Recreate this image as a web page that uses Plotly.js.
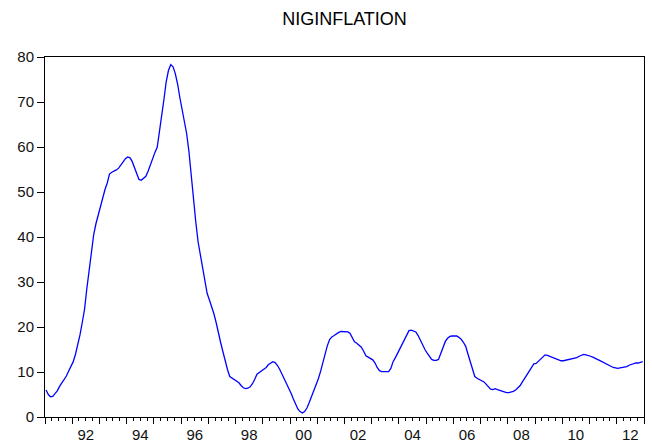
<!DOCTYPE html>
<html>
<head>
<meta charset="utf-8">
<script src="https://cdn.plot.ly/plotly-3.0.1.min.js"></script>
<style>html,body{margin:0;padding:0;background:#fff;}#chart{width:652px;height:443px;}</style>
</head>
<body>
<div id="chart"></div>
<script>
// Monthly values, Jan..Dec of each year
var v1991 = [6.0, 5.0, 4.5, 4.6, 5.2, 5.8, 6.8, 7.6, 8.3, 9.1, 10.2, 11.2];
var v1992 = [12.3, 14.0, 16.0, 18.3, 21.0, 24.0, 28.5, 33.0, 37.0, 40.5, 43.0, 45.0];
var v1993 = [46.5, 48.5, 50.5, 52.0, 54.0, 54.4, 54.6, 54.9, 55.3, 56.0, 56.8, 57.4];
var v1994 = [57.8, 57.6, 56.8, 55.5, 53.8, 52.8, 52.6, 53.0, 53.5, 54.6, 56.0, 57.8];
var v1995 = [58.8, 60.0, 63.0, 66.5, 70.5, 74.5, 77.0, 78.3, 77.8, 76.3, 74.0, 71.0];
var v1996 = [68.5, 66.0, 63.0, 59.0, 53.5, 48.0, 43.5, 39.0, 36.0, 33.0, 30.0, 27.5];
var v1997 = [26.0, 24.5, 23.0, 21.0, 18.5, 16.5, 14.5, 12.3, 10.5, 9.0, 8.6, 8.2];
var v1998 = [8.0, 7.6, 7.0, 6.5, 6.3, 6.4, 6.7, 7.4, 8.4, 9.5, 9.9, 10.2];
var v1999 = [10.5, 11.0, 11.6, 12.0, 12.3, 12.1, 11.5, 10.6, 9.6, 8.6, 7.5, 6.5];
var v2000 = [5.3, 4.0, 2.8, 1.8, 1.2, 0.9, 1.2, 2.0, 3.2, 4.4, 5.7, 7.0];
var v2001 = [8.5, 10.2, 12.0, 14.0, 15.8, 17.2, 17.8, 18.1, 18.5, 18.8, 19.0, 19.0];
var v2002 = [19.0, 18.9, 18.6, 17.5, 16.7, 16.4, 16.0, 15.5, 14.6, 13.6, 13.3, 13.0];
var v2003 = [12.7, 12.0, 11.0, 10.3, 10.1, 10.1, 10.1, 10.1, 10.8, 12.3, 13.2, 14.2];
var v2004 = [15.0, 16.0, 17.2, 18.3, 19.2, 19.3, 19.1, 18.9, 18.1, 17.0, 16.0, 15.0];
var v2005 = [14.2, 13.3, 12.8, 12.6, 12.6, 12.8, 14.0, 15.2, 16.8, 17.5, 17.9, 18.0];
var v2006 = [18.0, 18.0, 17.7, 17.3, 16.6, 15.7, 14.0, 12.2, 10.3, 9.0, 8.6, 8.3];
var v2007 = [8.1, 7.8, 7.3, 6.6, 6.2, 6.1, 6.3, 6.1, 5.9, 5.7, 5.5, 5.4];
var v2008 = [5.4, 5.5, 5.7, 6.0, 6.5, 7.0, 7.8, 8.6, 9.6, 10.4, 11.2, 11.8];
var v2009 = [11.9, 12.4, 13.0, 13.5, 13.8, 13.7, 13.5, 13.3, 13.1, 12.8, 12.6, 12.5];
var v2010 = [12.5, 12.6, 12.7, 12.8, 12.9, 13.0, 13.2, 13.5, 13.8, 13.9, 13.8, 13.7];
var v2011 = [13.5, 13.3, 13.0, 12.8, 12.6, 12.3, 12.0, 11.7, 11.5, 11.2, 11.0, 10.9];
var v2012 = [10.8, 10.9, 11.0, 11.0, 11.2, 11.5, 11.7, 11.9, 12.0, 12.0, 12.2, 12.3];

var startYear = 1991;
var yearly = [v1991, v1992, v1993, v1994, v1995, v1996, v1997, v1998, v1999, v2000, v2001,
              v2002, v2003, v2004, v2005, v2006, v2007, v2008, v2009, v2010, v2011, v2012];

var tickYears = [1992, 1994, 1996, 1998, 2000, 2002, 2004, 2006, 2008, 2010, 2012];
var tickText = ["92", "94", "96", "98", "00", "02", "04", "06", "08", "10", "12"];

var dates = [], values = [];
yearly.forEach(function (arr, i) {
  arr.forEach(function (v, m) {
    var mm = (m + 1 < 10 ? "0" : "") + (m + 1);
    dates.push((startYear + i) + "-" + mm + "-15");
    values.push(v);
  });
});
var labelPos = tickYears.map(function (y) { return y + "-07-02"; });

var font = "Liberation Sans, Arial, sans-serif";
var xr = ["1991-01-01", "2013-01-01"];

var trace = {
  x: dates, y: values, type: "scatter", mode: "lines",
  line: { color: "#0000FF", width: 1.3 }, hoverinfo: "none", cliponaxis: true
};
var labels = {
  x: labelPos, y: labelPos.map(function () { return null; }),
  xaxis: "x2", yaxis: "y", type: "scatter", mode: "lines", showlegend: false, hoverinfo: "none"
};

var layout = {
  width: 652, height: 443,
  margin: { l: 45, r: 8, t: 57, b: 26 },
  paper_bgcolor: "#fff", plot_bgcolor: "#fff",
  showlegend: false,
  font: { family: font, size: 15, color: "#111" },
  title: {
    text: "NIGINFLATION", font: { family: font, size: 18, color: "#000" },
    x: 0.5, xref: "paper", xanchor: "center", y: 1 - 19 / 443, yref: "container", yanchor: "middle"
  },
  xaxis: {
    type: "date", range: xr, tick0: "1991-01-01", dtick: "M12",
    ticks: "outside", ticklen: 6, tickwidth: 1, tickcolor: "#000",
    showticklabels: false, showgrid: false, zeroline: false,
    showline: true, linecolor: "#000", linewidth: 1, mirror: true,
    minor: { dtick: "M3", tick0: "1991-01-01", ticks: "outside", ticklen: 3, tickwidth: 1, tickcolor: "#000", showgrid: false }
  },
  xaxis2: {
    type: "date", range: xr, overlaying: "x", anchor: "y", side: "bottom",
    tickmode: "array", tickvals: labelPos, ticktext: tickText,
    ticks: "outside", ticklen: 4, tickcolor: "rgba(0,0,0,0)",
    showgrid: false, zeroline: false, showline: false,
    tickfont: { family: font, size: 15, color: "#111" }
  },
  yaxis: {
    range: [0, 80], dtick: 10, tick0: 0,
    ticks: "outside", ticklen: 7, tickwidth: 1, tickcolor: "#000",
    showgrid: false, zeroline: false,
    showline: true, linecolor: "#000", linewidth: 1, mirror: true,
    tickfont: { family: font, size: 15, color: "#111" }
  }
};

Plotly.newPlot("chart", [trace, labels], layout, { staticPlot: true, displayModeBar: false });
</script>
</body>
</html>
